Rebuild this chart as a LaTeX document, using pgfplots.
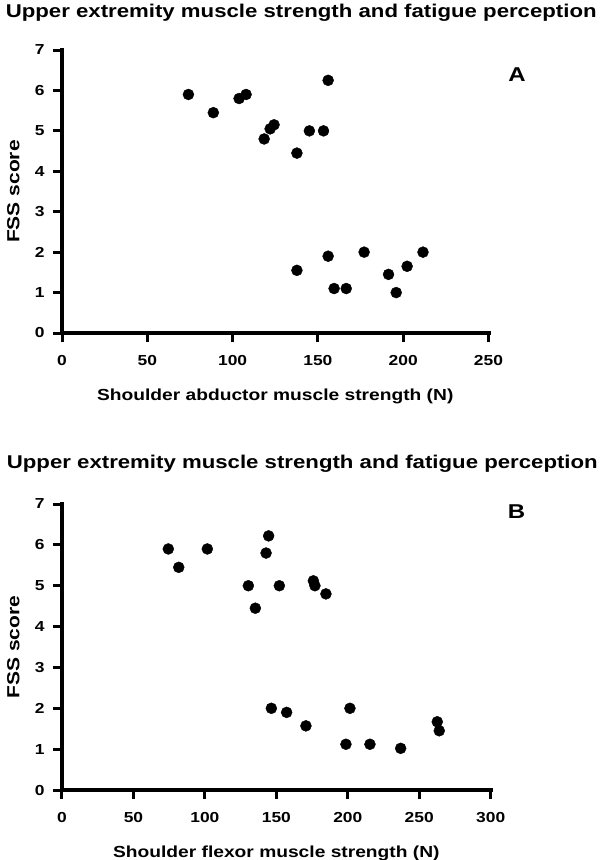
\documentclass[border=0pt]{standalone}
\usepackage{fontspec}
\setmainfont{Liberation Sans}[FakeStretch=1.2]
\usepackage{pgfplots}
\pgfplotsset{compat=1.18}
\pgfplotsset{
  panel/.style={
    scale only axis,
    axis lines=left,
    axis line style={-, line width=4pt, line cap=rect},
    xmin=0, ymin=0, ymax=7, ytick={0,1,...,7},
    tick align=outside,
    major tick length=9pt,
    tick style={line width=3pt, black},
    tick label style={font=\bfseries\fontsize{14.5}{15}\selectfont},
    xticklabel style={yshift=-10pt},
    yticklabel style={xshift=-5pt},
    /pgf/number format/assume math mode=true,
    clip=false,
    every axis y label/.style={at={(axis description cs:-0.0997,0.5)}, rotate=90, anchor=base, font=\bfseries\fontsize{17.5}{18}\selectfont},
    every axis x label/.style={at={(axis description cs:0.5,0)}, anchor=base, yshift=-67pt, font=\bfseries\fontsize{16}{17}\selectfont},
    title style={at={(axis description cs:0.5,1)}, anchor=base, font=\bfseries\fontsize{18.5}{19}\selectfont},
  },
  dots/.style={only marks, mark=*, mark size=5.5pt, mark options={fill=black, draw=black}},
}
\begin{document}
\begin{tikzpicture}
\path[use as bounding box] (0pt,0pt) rectangle (600pt,-860pt);
\begin{axis}[panel,
  at={(62pt,-333pt)}, anchor=south west,
  width=426.5pt, height=283pt,
  xmax=250, xtick={0,50,...,250},
  xlabel={Shoulder abductor muscle strength (N)},
  ylabel={FSS score},
  title={Upper extremity muscle strength and fatigue perception},
  title style={xshift=26pt, yshift=27pt},
]
\addplot[dots] coordinates {
(74.1,5.9) (88.7,5.45) (103.8,5.8) (107.9,5.9) (118.5,4.8) (122,5.05)
(124.3,5.15) (137.7,4.45) (145,5.0) (153.3,5.0) (156,6.25)
(137.7,1.55) (156,1.9) (159.5,1.1) (166.6,1.1) (177.1,2.0) (191.4,1.45)
(195.9,1.0) (202.3,1.65) (211.6,2.0)
};
\node[font=\bfseries\fontsize{20}{20}\selectfont] at (axis cs:266.7,6.39) {A};
\end{axis}
\begin{axis}[panel,
  at={(62pt,-790pt)}, anchor=south west,
  width=428.7pt, height=286pt,
  xmax=300, xtick={0,50,...,300},
  xlabel={Shoulder flexor muscle strength (N)},
  ylabel={FSS score},
  title={Upper extremity muscle strength and fatigue perception},
  title style={xshift=26pt, yshift=30pt},
]
\addplot[dots] coordinates {
(74.4,5.9) (81.7,5.45) (101.7,5.9) (130.4,5.0) (135.3,4.45) (142.8,5.8)
(144.6,6.22) (152.1,5.0) (175.9,5.12) (177,5.0) (184.7,4.8)
(146.5,2.0) (157.2,1.9) (170.7,1.57) (198.7,1.12) (201.5,2.0) (215.5,1.12)
(237,1.02) (262.6,1.67) (264,1.45)
};
\node[font=\bfseries\fontsize{20}{20}\selectfont] at (axis cs:318,6.81) {B};
\end{axis}
\end{tikzpicture}
\end{document}
